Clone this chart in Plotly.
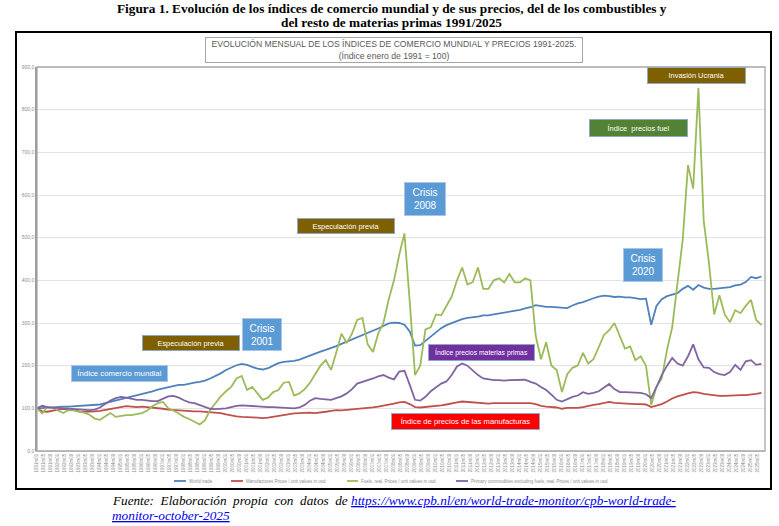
import pandas as pd
import plotly.graph_objects as go

W, H = 779, 526
L, R, T, B = 37, 765, 67, 451  # plot area edges on the page, in pixels


def px(x):
    return (x - L) / (R - L)


def py(y):
    return (B - y) / (B - T)


# quarterly readings (Jan, Apr, Jul, Oct) of the monthly CPB indices, Jan 1991 = 100
quarters = pd.date_range("1991-01-01", "2025-07-01", freq="QS-JAN")

world_trade = [
    100, 101, 102, 102, 103, 104, 104, 105, 105, 106, 107, 108, 109, 112, 115, 118,
    121, 125, 128, 130, 133, 137, 140, 144, 147, 150, 153, 155, 155, 158, 160, 162,
    165, 170, 176, 182, 190, 196, 201, 204, 202, 197, 193, 191, 194, 200, 206, 209,
    210, 211, 214, 219, 224, 229, 233, 237, 241, 246, 251, 256, 261, 266, 272, 277,
    282, 287, 293, 299, 301, 300, 296, 280, 247, 248, 258, 268, 279, 288, 295, 300,
    305, 309, 312, 313, 315, 318, 318, 320, 322, 324, 327, 329, 331, 334, 337, 342,
    340, 338, 338, 337, 335, 335, 341, 346, 349, 354, 358, 362, 364, 363, 361, 362,
    360, 360, 358, 356, 357, 296, 340, 356, 363, 367, 370, 380, 387, 378, 389, 383,
    380, 380, 381, 382, 384, 388, 390, 396, 408, 405, 409,
]
manufactures = [
    100, 93, 92, 95, 97, 98, 99, 96, 93, 92, 92, 93, 94, 96, 98, 100,
    102, 105, 104, 103, 104, 103, 102, 101, 99, 97, 96, 95, 94, 93, 93, 93,
    92, 91, 90, 89, 86, 83, 81, 80, 80, 79, 78, 77, 78, 80, 83, 84,
    86, 88, 89, 90, 90, 89, 90, 92, 94, 96, 95, 96, 97, 99, 100, 101,
    102, 104, 106, 108, 111, 114, 115, 110, 103, 102, 103, 105, 106, 107, 109, 112,
    114, 116, 115, 113, 112, 112, 111, 112, 112, 112, 112, 113, 113, 112, 112, 110,
    106, 104, 103, 102, 99, 101, 101, 101, 103, 106, 108, 110, 113, 115, 113, 112,
    111, 111, 110, 110, 109, 103, 106, 110, 116, 123, 128, 132, 135, 138, 137, 134,
    132, 130, 129, 129, 130, 131, 131, 131, 132, 134, 136,
]
fuels = [
    100, 88, 103, 103, 95, 89, 96, 95, 92, 90, 85, 76, 73, 82, 89, 80,
    82, 84, 84, 86, 89, 95, 105, 112, 115, 100, 95, 88, 80, 75, 68, 62,
    72, 96, 112, 128, 140, 150, 170, 176, 143, 150, 135, 120, 125, 138, 143, 160,
    162, 130, 135, 145, 160, 180, 200, 213, 190, 230, 275, 253, 275, 307, 312, 250,
    232, 275, 300, 355, 400, 460, 510, 350, 178, 200, 285, 290, 320, 318, 340, 362,
    400, 430, 390, 396, 430, 380, 380, 400, 405, 395, 415, 395, 395, 405, 400, 270,
    215, 255, 200, 190, 138, 180, 195, 200, 230, 205, 215, 245, 272, 283, 300, 270,
    240, 245, 213, 222, 200, 108, 150, 170, 237, 290, 394, 495, 670, 615, 851, 540,
    440, 320, 365, 320, 302, 330, 323, 340, 354, 307, 295,
]
primary = [
    100, 106, 103, 101, 101, 100, 100, 98, 97, 96, 96, 97, 102, 110, 118, 124,
    127, 125, 122, 120, 120, 118, 117, 117, 122, 128, 129, 125, 119, 114, 112, 108,
    103, 99, 98, 99, 100, 103, 106, 107, 106, 105, 104, 103, 103, 103, 102, 101,
    101, 100, 102, 108, 118, 124, 122, 121, 120, 124, 128, 135, 145, 158, 162, 165,
    170, 175, 178, 172, 168, 186, 188, 155, 120, 118, 127, 140, 150, 158, 163, 178,
    198, 205, 200, 188, 178, 170, 168, 166, 166, 165, 166, 166, 166, 167, 162, 158,
    150, 143, 132, 120, 116, 122, 127, 130, 138, 134, 136, 140, 148, 157, 145, 138,
    138, 137, 136, 136, 133, 124, 150, 178, 200, 218, 205, 200, 222, 250, 215, 196,
    195, 185, 180, 178, 185, 202, 190, 210, 213, 202, 204,
]

series_names = [
    "World trade",
    "Manufactures Prices / unit values in usd",
    "Fuels, real. Prices / unit values in usd",
    "Primary commodities excluding fuels, real. Prices / unit values in usd",
]
series_colors = ["#4F81BD", "#C0504D", "#9BBB59", "#8064A2"]

tick_months = pd.date_range("1991-01-01", "2025-08-01", freq="4MS")
tick_labels = [f"{d.year}m{d.month:02d}" for d in tick_months]

SANS = "Liberation Sans, Arial, sans-serif"
SERIF = "Liberation Serif, Times New Roman, serif"

fig = go.Figure()
for name, vals, col in zip(series_names, [world_trade, manufactures, fuels, primary], series_colors):
    fig.add_trace(go.Scatter(x=quarters, y=vals, name=name, mode="lines",
                             line=dict(color=col, width=1.8), showlegend=False))

fig.update_layout(
    width=W, height=H,
    margin=dict(l=L, r=W - R, t=T, b=H - B),
    paper_bgcolor="white", plot_bgcolor="white",
    separators=",.",
    font=dict(family=SANS, color="#595959"),
)
fig.update_xaxes(
    range=["1991-01-01", "2025-09-01"], tickvals=tick_months, ticktext=tick_labels,
    tickangle=-90, tickfont=dict(size=4.5, color="#8C8C8C"), showgrid=False,
    showline=True, linecolor="#D9D9D9", linewidth=1, ticks="",
)
fig.update_yaxes(
    range=[0, 900], dtick=100, tickformat=".1f", tickfont=dict(size=5, color="#8C8C8C"),
    gridcolor="#E3E3E3", gridwidth=1, zeroline=False,
    showline=True, linecolor="#9A9A9A", linewidth=1.5, ticks="",
)

shapes = [
    # outer frame of the figure
    dict(type="rect", xref="paper", yref="paper", x0=px(16), x1=px(771), y0=py(489), y1=py(32),
         line=dict(color="black", width=2)),
    # plot area border
    dict(type="rect", xref="paper", yref="paper", x0=0, x1=1, y0=0, y1=1,
         line=dict(color="#A6A6A6", width=1.3)),
]

annotations = [
    dict(text="<b>Figura 1. Evolución de los índices de comercio mundial y de sus precios, del de los combustibles y</b>",
         x=px(392), y=py(8), font=dict(family=SERIF, size=13.3, color="black")),
    dict(text="<b>del resto de materias primas 1991/2025</b>",
         x=px(391), y=py(22), font=dict(family=SERIF, size=13.3, color="black")),
    dict(text="EVOLUCIÓN MENSUAL DE LOS ÍNDICES DE COMERCIO MUNDIAL Y PRECIOS 1991-2025.<br>(Índice enero de 1991 = 100)",
         x=px(394), y=py(50), width=376, height=24, bordercolor="#A6A6A6", borderwidth=1, borderpad=0,
         bgcolor="white", font=dict(size=8.6, color="#595959")),
]

# coloured labels: left, right, top, bottom (page pixels), text, colour, font size
labels = [
    (71, 168, 365, 382, "Índice comercio mundial", "#5B9BD5", 7.8),
    (142, 240, 335, 351, "Especulación previa", "#7F6000", 7.4),
    (242, 282, 318, 351, "Crisis<br>2001", "#5B9BD5", 10),
    (297, 395, 218, 234, "Especulación previa", "#7F6000", 7.4),
    (404, 446, 182, 216, "Crisis<br>2008", "#5B9BD5", 10),
    (428, 535, 344, 361, "Índice precios materias primas", "#7030A0", 6.8),
    (391, 540, 413, 430, "Índice de precios de las manufacturas", "#FF0000", 7.7),
    (623, 663, 248, 282, "Crisis<br>2020", "#5B9BD5", 10),
    (589, 688, 119, 137, "Índice  precios fuel", "#548235", 7.4),
    (647, 746, 67, 84, "Invasión Ucrania", "#7F6000", 7.4),
]
for x0, x1, y0, y1, txt, bg, fs in labels:
    annotations.append(dict(
        text=txt, x=px((x0 + x1) / 2), y=py((y0 + y1) / 2), width=x1 - x0 - 2, height=y1 - y0 - 2,
        bgcolor=bg, bordercolor="#A9C4E6" if bg == "#5B9BD5" else "#8FA8C8", borderwidth=1, borderpad=0,
        font=dict(size=fs, color="white"),
    ))

# legend drawn below the axis labels
legend_pos = [(174, 186), (231, 243), (347, 358), (456, 468)]
for (lx0, lx1), name, col in zip(legend_pos, series_names, series_colors):
    shapes.append(dict(type="line", xref="paper", yref="paper", x0=px(lx0), x1=px(lx1),
                       y0=py(481), y1=py(481), line=dict(color=col, width=1.8)))
    annotations.append(dict(text=name, x=px(lx1 + 1), y=py(481), xanchor="left",
                            font=dict(size=4.5, color="#8C8C8C")))

link_style = 'style="color:#0000EE;text-decoration:underline"'
annotations += [
    dict(text="<i>Fuente:  Elaboración  propia  con  datos  de</i>", x=px(110), y=py(500), xanchor="left",
         font=dict(family=SERIF, size=13.2, color="black")),
    dict(text=f'<i><span {link_style}>https://www.cpb.nl/en/world-trade-monitor/cpb-world-trade-</span></i>',
         x=px(349), y=py(500), xanchor="left", font=dict(family=SERIF, size=13.3, color="#0000EE")),
    dict(text=f'<i><span {link_style}>monitor-october-2025</span></i>',
         x=px(110), y=py(515), xanchor="left", font=dict(family=SERIF, size=13.3, color="#0000EE")),
]

for a in annotations:
    a.setdefault("xref", "paper")
    a.setdefault("yref", "paper")
    a.setdefault("showarrow", False)
    a.setdefault("yanchor", "middle")
    a.setdefault("xanchor", "center")

fig.update_layout(shapes=shapes, annotations=annotations)
# drop the browser's default 8px body margin so the figure fills the page
fig.write_html("out.html", config={"displayModeBar": False},
               post_script="document.body.style.margin = '0';")
